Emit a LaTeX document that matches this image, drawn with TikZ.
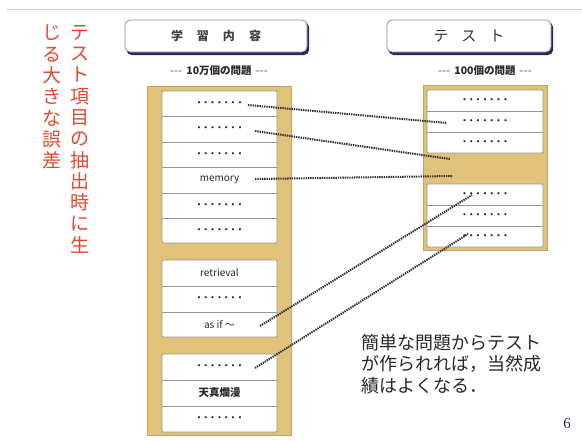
\documentclass[tikz,border=0pt]{standalone}
\usepackage{fontspec}
\setmainfont{Noto Sans CJK JP}
\newfontfamily\dotfont{DejaVu Sans}
\newfontfamily\numfont{Liberation Serif}
\usetikzlibrary{shadows}
\definecolor{tan}{RGB}{224,194,122}
\definecolor{tanedge}{RGB}{200,165,90}
\definecolor{rowedge}{RGB}{150,150,150}
\definecolor{titlered}{RGB}{226,72,50}
\definecolor{navy}{RGB}{40,40,100}
\definecolor{txt}{RGB}{40,40,40}
\newcommand\dotrow{{\dotfont\fontsize{7.5}{7.5}\selectfont •\hspace{2.4pt}•\hspace{2.4pt}•\hspace{2.4pt}•\hspace{2.4pt}•\hspace{2.4pt}•\hspace{2.4pt}•}}
\tikzset{
  tanbox/.style={fill=tan,draw=tanedge,line width=0.8pt},
  grp/.style={fill=white,draw=rowedge,line width=0.8pt,rounded corners=1pt},
  lrow/.style={minimum width=115pt,inner sep=0pt,text=txt,font=\fontsize{10}{10}\selectfont},
  rrow/.style={minimum width=116pt,inner sep=0pt,text=txt,font=\fontsize{10}{10}\selectfont},
  sep/.style={draw=rowedge,line width=0.8pt},
  link/.style={draw=black!80,line width=2pt,dash pattern=on 1.4pt off 0.9pt},
  header/.style={draw=black!45,fill=white,rounded corners=5pt,line width=0.8pt,
    copy shadow={shadow xshift=1.8pt,shadow yshift=-2.6pt,fill=navy,draw=navy}},
  redcol/.style={anchor=north,align=center,text=titlered,inner sep=0pt,
    font=\fontsize{19}{21.3}\selectfont},
  sub/.style={text=txt,font=\fontsize{10.5}{10.5}\selectfont\bfseries}
}
\begin{document}
\begin{tikzpicture}[x=1pt,y=-1pt]
\useasboundingbox (0,0) rectangle (582,440);
\fill[white] (0,0) rectangle (582,440);
\draw[black!20,line width=0.6pt] (7,9) -- (582,9);

% red vertical title
\node[redcol] (t1) at (80,25) {テ\\ス\\ト\\項\\目\\の\\抽\\出\\時\\に\\生};
\node[redcol] (t2) at (52,25) {じ\\る\\大\\き\\な\\誤\\差};

% headers
\node[header,minimum width=182pt,minimum height=32pt] (h1) at (216,36)
  {\color{black!75}\fontsize{12}{12}\selectfont\bfseries 学\hspace{14pt}習\hspace{14pt}内\hspace{14pt}容};
\node[header,minimum width=164pt,minimum height=32pt] (h2) at (469,36)
  {\color{black!80}\fontsize{15}{15}\selectfont テ\hspace{13pt}ス\hspace{13pt}ト};

\node[sub] (s1) at (219,71) {\textcolor{black!40}{-{}-{}-}\, 10万個の問題 \,\textcolor{black!40}{-{}-{}-}};
\node[sub] (s2) at (485,71) {\textcolor{black!40}{-{}-{}-}\, 100個の問題 \,\textcolor{black!40}{-{}-{}-}};

% left column
\draw[tanbox] (147,86) rectangle (291,435);
\draw[grp] (162,91) rectangle (277,243);
\draw[grp] (162,260) rectangle (277,337);
\draw[grp] (162,354) rectangle (277,432);
\foreach \y in {116,142,167,193,218,286,312,380,406}
  \draw[sep] (162,\y) -- (277,\y);
\node[lrow] (l1) at (219.5,103.5) {\dotrow};
\node[lrow] (l2) at (219.5,129) {\dotrow};
\node[lrow] (l3) at (219.5,154.5) {\dotrow};
\node[lrow] (l4) at (219.5,180) {memory};
\node[lrow] (l5) at (219.5,205.5) {\dotrow};
\node[lrow] (l6) at (219.5,230.5) {\dotrow};
\node[lrow] (l7) at (219.5,273) {retrieval};
\node[lrow] (l8) at (219.5,299) {\dotrow};
\node[lrow] (l9) at (219.5,324.5) {as if ～};
\node[lrow] (l10) at (219.5,367) {\dotrow};
\node[lrow] (l11) at (219.5,393) {\fontsize{10.5}{10.5}\selectfont\bfseries 天真爛漫};
\node[lrow] (l12) at (219.5,419) {\dotrow};

% right column
\draw[tanbox] (423,85) rectangle (547,250);
\draw[grp] (427,90) rectangle (543,153);
\draw[grp] (427,184) rectangle (543,247);
\foreach \y in {111,132,205,226}
  \draw[sep] (427,\y) -- (543,\y);
\node[rrow] (r1) at (485,100.5) {\dotrow};
\node[rrow] (r2) at (485,121.5) {\dotrow};
\node[rrow] (r3) at (485,142.5) {\dotrow};
\node[rrow] (r4) at (485,194.5) {\dotrow};
\node[rrow] (r5) at (485,215.5) {\dotrow};
\node[rrow] (r6) at (485,236.5) {\dotrow};

% connector end points
\coordinate (a1) at (248,105);  \coordinate (b1) at (447,123);
\coordinate (a2) at (255,131);  \coordinate (b2) at (450,159);
\coordinate (a3) at (255,179);  \coordinate (b3) at (453,176);
\coordinate (a4) at (260,326);  \coordinate (b4) at (472,195);
\coordinate (a5) at (255,368);  \coordinate (b5) at (468,234);
\draw[link] (a1) -- (b1);
\draw[link] (a2) -- (b2);
\draw[link] (a3) -- (b3);
\draw[link] (a4) -- (b4);
\draw[link] (a5) -- (b5);

% comment text
\node[anchor=north west,align=left,inner sep=0pt,text=txt,
  font=\fontsize{18}{21.5}\selectfont] (c) at (361,334)
  {簡単な問題からテスト\\が作られれば，当然成\\績はよくなる．};

\node[text=navy,font=\numfont\fontsize{15}{15}\selectfont] (pg) at (567,424) {6};
\end{tikzpicture}
\end{document}
